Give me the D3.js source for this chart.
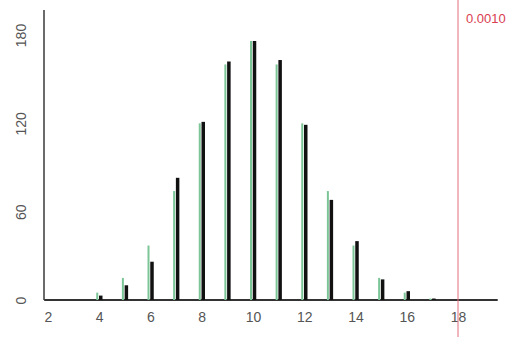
<!DOCTYPE html>
<html>
<head>
<meta charset="utf-8">
<script src="https://cdn.jsdelivr.net/npm/d3@7"></script>
<style>
  body { margin: 0; background: #fff; }
  svg { display: block; }
  .tick text { font-family: Arial, "Liberation Sans", sans-serif; fill: #555; }
</style>
</head>
<body>
<div id="wrapper"></div>
<script>
// data
const counts = [4, 5, 6, 7, 8, 9, 10, 11, 12, 13, 14, 15, 16, 17]
const expected = [5, 15, 37, 74, 120, 160, 176, 160, 120, 74, 37, 15, 5, 1]
const observed = [3, 10, 26, 83, 121, 162, 176, 163, 119, 68, 40, 14, 6, 1]
const xTicks = [2, 4, 6, 8, 10, 12, 14, 16, 18]
const yTicks = [0, 60, 120, 180]
const cutoff = 18
const cutoffLabel = "0.0010"

const width = 518
const height = 337

const svg = d3.select("#wrapper").append("svg")
  .attr("width", width)
  .attr("height", height)

// scales
const xScale = d3.scaleLinear().domain([2, 18]).range([48, 458])
const yScale = d3.scaleLinear().domain([0, 180]).range([300, 35])

// x axis labels
svg.append("g")
  .attr("transform", `translate(0, ${yScale(0)})`)
  .call(d3.axisBottom(xScale).tickValues(xTicks).tickSize(0).tickPadding(12))
  .call(g => g.select(".domain").remove())
  .selectAll("text").style("font-size", "14px")

// y axis labels (rotated)
const yAxis = svg.append("g")
  .attr("transform", `translate(44, 0)`)
  .call(d3.axisLeft(yScale).tickValues(yTicks).tickSize(0).tickPadding(0))
  .call(g => g.select(".domain").remove())
yAxis.selectAll(".tick text")
  .attr("x", 0)
  .attr("text-anchor", "middle")
  .attr("transform", "translate(-23,0) rotate(-90)")
  .attr("dy", "0.35em")
  .style("font-size", "14px")

// axis lines
svg.append("line")
  .attr("x1", 44).attr("x2", 44)
  .attr("y1", yScale(0)).attr("y2", yScale(197))
  .attr("stroke", "#6b6b6b").attr("stroke-width", 2)
svg.append("line")
  .attr("x1", xScale(1.85)).attr("x2", xScale(19.55))
  .attr("y1", yScale(0)).attr("y2", yScale(0))
  .attr("stroke", "#333").attr("stroke-width", 2)

// expected bars (green, left)
svg.append("g").selectAll("line")
  .data(counts.map((c, i) => ({ c, v: expected[i] })))
  .join("line")
  .attr("x1", d => xScale(d.c) - 2).attr("x2", d => xScale(d.c) - 2)
  .attr("y1", yScale(0)).attr("y2", d => yScale(d.v))
  .attr("stroke", "#7cc597").attr("stroke-width", 2)

// observed bars (black, right)
svg.append("g").selectAll("line")
  .data(counts.map((c, i) => ({ c, v: observed[i] })).filter(d => d.v > 0))
  .join("line")
  .attr("x1", d => xScale(d.c) + 1.5).attr("x2", d => xScale(d.c) + 1.5)
  .attr("y1", yScale(0)).attr("y2", d => yScale(d.v))
  .attr("stroke", "#111").attr("stroke-width", 3.5)

// cutoff line
svg.append("line")
  .attr("x1", xScale(cutoff)).attr("x2", xScale(cutoff))
  .attr("y1", 0).attr("y2", height)
  .attr("stroke", "#e0707c").attr("stroke-width", 1)
svg.append("text")
  .attr("x", xScale(cutoff) + 8).attr("y", 23)
  .attr("fill", "#d9404f")
  .style("font-family", "Arial, 'Liberation Sans', sans-serif")
  .style("font-size", "13px")
  .text(cutoffLabel)
</script>
</body>
</html>
